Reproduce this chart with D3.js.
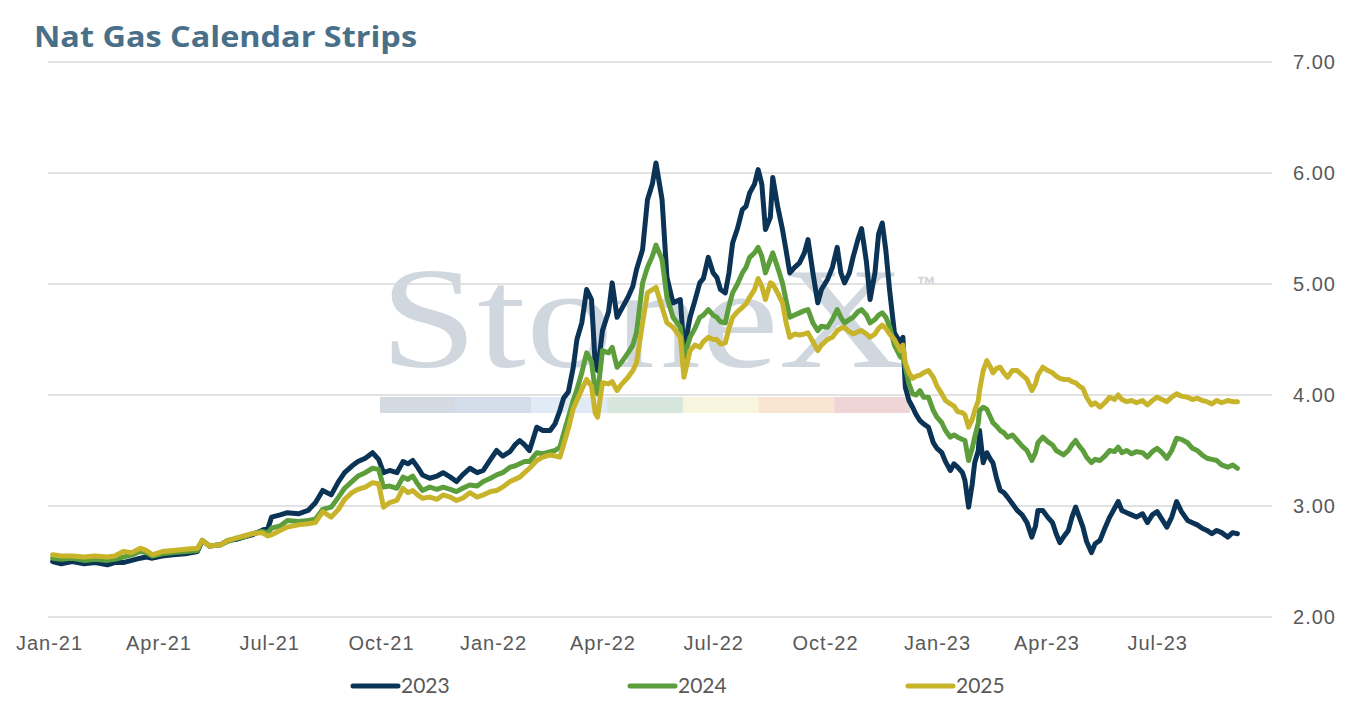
<!DOCTYPE html>
<html>
<head>
<meta charset="utf-8">
<script src="https://cdn.jsdelivr.net/npm/d3@7"></script>
<style>
  html, body { margin: 0; padding: 0; background: #fff; }
  svg { display: block; font-family: Lato, "Open Sans", sans-serif; }
  .grid line { stroke: #d9d9d9; stroke-width: 1.5; }
  .tick text { fill: #595959; font-size: 20px; letter-spacing: 1px; }
  .series { fill: none; stroke-width: 5; stroke-linejoin: round; stroke-linecap: round; }
</style>
</head>
<body>
<div class="chart"></div>
<script>
//
// DATA
//
const title = 'Nat Gas Calendar Strips'
const seriesNames = ['2023', '2024', '2025']
const seriesColors = ['#0b3355', '#5c9e3b', '#c8b42b']
const yTicks = [2, 3, 4, 5, 6, 7]

const dates = [
    '2021-01-04', '2021-01-11', '2021-01-20', '2021-01-30', '2021-02-08', '2021-02-18', '2021-02-24', '2021-03-03', '2021-03-10', '2021-03-17',
    '2021-03-22', '2021-03-27', '2021-04-04', '2021-04-13', '2021-04-23', '2021-05-03', '2021-05-07', '2021-05-13', '2021-05-22', '2021-05-28',
    '2021-06-04', '2021-06-10', '2021-06-17', '2021-06-25', '2021-06-30', '2021-07-03', '2021-07-10', '2021-07-16', '2021-07-25', '2021-08-02',
    '2021-08-08', '2021-08-14', '2021-08-21', '2021-08-27', '2021-09-01', '2021-09-07', '2021-09-12', '2021-09-18', '2021-09-24', '2021-09-29',
    '2021-10-03', '2021-10-08', '2021-10-14', '2021-10-19', '2021-10-23', '2021-10-27', '2021-10-31', '2021-11-04', '2021-11-10', '2021-11-16',
    '2021-11-21', '2021-11-27', '2021-12-02', '2021-12-07', '2021-12-13', '2021-12-19', '2021-12-24', '2021-12-30', '2022-01-04', '2022-01-09',
    '2022-01-15', '2022-01-19', '2022-01-23', '2022-01-27', '2022-01-31', '2022-02-06', '2022-02-11', '2022-02-17', '2022-02-21', '2022-02-25',
    '2022-02-28', '2022-03-04', '2022-03-08', '2022-03-11', '2022-03-15', '2022-03-19', '2022-03-23', '2022-03-26', '2022-03-28', '2022-04-01',
    '2022-04-06', '2022-04-09', '2022-04-13', '2022-04-17', '2022-04-22', '2022-04-26', '2022-04-29', '2022-05-04', '2022-05-08', '2022-05-12',
    '2022-05-15', '2022-05-20', '2022-05-24', '2022-05-29', '2022-06-04', '2022-06-07', '2022-06-12', '2022-06-16', '2022-06-20', '2022-06-23',
    '2022-06-27', '2022-07-01', '2022-07-04', '2022-07-07', '2022-07-11', '2022-07-14', '2022-07-17', '2022-07-21', '2022-07-25', '2022-07-28',
    '2022-07-31', '2022-08-04', '2022-08-07', '2022-08-10', '2022-08-13', '2022-08-17', '2022-08-19', '2022-08-23', '2022-08-27', '2022-08-30',
    '2022-09-02', '2022-09-06', '2022-09-10', '2022-09-14', '2022-09-17', '2022-09-21', '2022-09-25', '2022-09-28', '2022-10-03', '2022-10-07',
    '2022-10-11', '2022-10-14', '2022-10-17', '2022-10-21', '2022-10-24', '2022-10-28', '2022-10-31', '2022-11-04', '2022-11-07', '2022-11-11',
    '2022-11-14', '2022-11-17', '2022-11-20', '2022-11-23', '2022-11-27', '2022-12-02', '2022-12-04', '2022-12-06', '2022-12-09', '2022-12-12',
    '2022-12-15', '2022-12-18', '2022-12-21', '2022-12-25', '2022-12-29', '2023-01-01', '2023-01-05', '2023-01-08', '2023-01-12', '2023-01-15',
    '2023-01-18', '2023-01-22', '2023-01-24', '2023-01-27', '2023-01-30', '2023-02-01', '2023-02-04', '2023-02-05', '2023-02-08', '2023-02-11',
    '2023-02-14', '2023-02-16', '2023-02-19', '2023-02-22', '2023-02-25', '2023-02-28', '2023-03-04', '2023-03-08', '2023-03-12', '2023-03-16',
    '2023-03-20', '2023-03-23', '2023-03-25', '2023-03-29', '2023-04-02', '2023-04-06', '2023-04-09', '2023-04-12', '2023-04-15', '2023-04-19',
    '2023-04-22', '2023-04-25', '2023-04-28', '2023-05-01', '2023-05-04', '2023-05-08', '2023-05-11', '2023-05-15', '2023-05-19', '2023-05-23',
    '2023-05-27', '2023-05-30', '2023-06-02', '2023-06-06', '2023-06-10', '2023-06-14', '2023-06-19', '2023-06-23', '2023-06-27', '2023-07-01',
    '2023-07-05', '2023-07-09', '2023-07-13', '2023-07-17', '2023-07-21', '2023-07-26', '2023-07-30', '2023-08-03', '2023-08-07', '2023-08-11',
    '2023-08-15', '2023-08-19', '2023-08-23', '2023-08-28', '2023-09-01', '2023-09-05'
]

const strip2023 = [
    2.50, 2.48, 2.50, 2.48, 2.49, 2.47, 2.49, 2.49, 2.51, 2.53,
    2.54, 2.53, 2.55, 2.56, 2.57, 2.59, 2.69, 2.64, 2.65, 2.69,
    2.70, 2.72, 2.74, 2.78, 2.80, 2.90, 2.92, 2.94, 2.93, 2.96,
    3.03, 3.14, 3.10, 3.22, 3.30, 3.36, 3.40, 3.43, 3.48, 3.42,
    3.30, 3.32, 3.30, 3.40, 3.38, 3.41, 3.35, 3.28, 3.25, 3.27,
    3.30, 3.26, 3.22, 3.28, 3.34, 3.30, 3.32, 3.42, 3.50, 3.45,
    3.49, 3.55, 3.59, 3.55, 3.50, 3.71, 3.68, 3.68, 3.74, 3.86,
    3.97, 4.03, 4.25, 4.50, 4.65, 4.95, 4.86, 4.29, 4.22, 4.58,
    4.75, 5.01, 4.70, 4.78, 4.88, 4.98, 5.13, 5.31, 5.76, 5.90,
    6.09, 5.76, 5.06, 4.83, 4.86, 4.40, 4.70, 4.85, 5.01, 5.05,
    5.24, 5.10, 5.06, 4.95, 4.92, 5.10, 5.37, 5.50, 5.67, 5.70,
    5.82, 5.90, 6.03, 5.90, 5.49, 5.60, 5.96, 5.70, 5.49, 5.30,
    5.10, 5.15, 5.19, 5.28, 5.40, 5.10, 4.83, 4.95, 5.04, 5.15,
    5.33, 5.10, 5.01, 5.10, 5.24, 5.40, 5.50, 5.20, 4.86, 5.10,
    5.45, 5.55, 5.30, 4.95, 4.56, 4.47, 4.52, 4.07, 3.95, 3.89,
    3.82, 3.77, 3.74, 3.71, 3.57, 3.52, 3.48, 3.40, 3.32, 3.38,
    3.35, 3.30, 3.23, 2.99, 3.20, 3.39, 3.50, 3.68, 3.39, 3.48,
    3.42, 3.39, 3.25, 3.14, 3.12, 3.08, 3.02, 2.96, 2.92, 2.85,
    2.72, 2.82, 2.96, 2.96, 2.90, 2.85, 2.75, 2.67, 2.72, 2.78,
    2.90, 2.99, 2.90, 2.81, 2.68, 2.58, 2.66, 2.69, 2.80, 2.90,
    2.98, 3.04, 2.96, 2.94, 2.92, 2.90, 2.93, 2.85, 2.92, 2.95,
    2.88, 2.81, 2.90, 3.04, 2.95, 2.87, 2.85, 2.83, 2.80, 2.78,
    2.75, 2.78, 2.76, 2.72, 2.76, 2.75
]

const strip2024 = [
    2.53, 2.52, 2.53, 2.51, 2.52, 2.51, 2.52, 2.54, 2.56, 2.59,
    2.58, 2.55, 2.57, 2.58, 2.59, 2.60, 2.69, 2.64, 2.65, 2.68,
    2.71, 2.72, 2.75, 2.77, 2.76, 2.80, 2.82, 2.87, 2.86, 2.87,
    2.88, 2.97, 2.99, 3.08, 3.16, 3.22, 3.27, 3.30, 3.34, 3.33,
    3.17, 3.18, 3.16, 3.26, 3.24, 3.27, 3.20, 3.14, 3.17, 3.15,
    3.17, 3.15, 3.13, 3.16, 3.19, 3.18, 3.22, 3.25, 3.28, 3.30,
    3.35, 3.36, 3.38, 3.40, 3.40, 3.48, 3.47, 3.49, 3.50, 3.53,
    3.65, 3.80, 3.95, 4.05, 4.20, 4.38, 4.30, 4.04, 4.01, 4.40,
    4.38, 4.43, 4.25, 4.30, 4.38, 4.45, 4.56, 5.01, 5.15, 5.25,
    5.35, 5.22, 4.88, 4.70, 4.61, 4.34, 4.52, 4.60, 4.70, 4.72,
    4.77, 4.72, 4.70, 4.66, 4.65, 4.80, 4.92, 5.00, 5.10, 5.15,
    5.24, 5.28, 5.33, 5.25, 5.10, 5.22, 5.28, 5.15, 5.01, 4.85,
    4.70, 4.72, 4.74, 4.76, 4.77, 4.65, 4.58, 4.62, 4.61, 4.68,
    4.77, 4.70, 4.65, 4.68, 4.70, 4.75, 4.77, 4.72, 4.65, 4.68,
    4.72, 4.74, 4.70, 4.62, 4.45, 4.34, 4.40, 4.25, 4.10, 4.01,
    4.00, 4.04, 3.98, 3.98, 3.86, 3.80, 3.75, 3.68, 3.62, 3.64,
    3.62, 3.60, 3.59, 3.41, 3.52, 3.62, 3.75, 3.86, 3.89, 3.87,
    3.80, 3.75, 3.72, 3.68, 3.66, 3.62, 3.64, 3.59, 3.54, 3.50,
    3.41, 3.48, 3.57, 3.62, 3.58, 3.55, 3.50, 3.48, 3.46, 3.50,
    3.55, 3.59, 3.54, 3.50, 3.44, 3.39, 3.42, 3.41, 3.45, 3.50,
    3.49, 3.53, 3.48, 3.50, 3.47, 3.49, 3.48, 3.44, 3.49, 3.52,
    3.48, 3.43, 3.50, 3.61, 3.60, 3.57, 3.52, 3.50, 3.46, 3.43,
    3.42, 3.41, 3.37, 3.35, 3.37, 3.34
]

const strip2025 = [
    2.56, 2.55, 2.55, 2.54, 2.55, 2.54, 2.55, 2.59, 2.58, 2.62,
    2.60, 2.56, 2.59, 2.60, 2.61, 2.62, 2.69, 2.64, 2.65, 2.69,
    2.71, 2.73, 2.75, 2.76, 2.73, 2.74, 2.78, 2.81, 2.83, 2.84,
    2.85, 2.95, 2.90, 2.97, 3.06, 3.12, 3.15, 3.17, 3.21, 3.20,
    2.99, 3.03, 3.05, 3.16, 3.12, 3.14, 3.10, 3.07, 3.08, 3.06,
    3.10, 3.08, 3.05, 3.07, 3.12, 3.08, 3.10, 3.13, 3.14, 3.17,
    3.22, 3.24, 3.26, 3.30, 3.34, 3.41, 3.44, 3.46, 3.45, 3.44,
    3.55, 3.70, 3.88, 3.95, 4.05, 4.14, 4.08, 3.84, 3.80, 4.11,
    4.10, 4.12, 4.04, 4.10, 4.16, 4.22, 4.29, 4.65, 4.92, 4.95,
    4.97, 4.79, 4.65, 4.61, 4.52, 4.16, 4.40, 4.45, 4.43, 4.48,
    4.52, 4.50, 4.50, 4.46, 4.47, 4.60, 4.70, 4.75, 4.79, 4.82,
    4.88, 4.95, 5.05, 4.98, 4.86, 5.01, 5.00, 4.92, 4.83, 4.65,
    4.52, 4.55, 4.54, 4.55, 4.56, 4.48, 4.40, 4.45, 4.50, 4.52,
    4.58, 4.60, 4.61, 4.57, 4.55, 4.57, 4.58, 4.55, 4.52, 4.55,
    4.60, 4.63, 4.60, 4.55, 4.50, 4.40, 4.45, 4.29, 4.20, 4.15,
    4.17, 4.18, 4.20, 4.22, 4.16, 4.08, 4.01, 3.95, 3.92, 3.90,
    3.85, 3.84, 3.82, 3.71, 3.78, 3.86, 3.95, 4.04, 4.22, 4.31,
    4.25, 4.20, 4.24, 4.25, 4.20, 4.16, 4.22, 4.22, 4.18, 4.14,
    4.04, 4.10, 4.18, 4.25, 4.22, 4.20, 4.17, 4.15, 4.14, 4.14,
    4.12, 4.11, 4.08, 4.06, 3.98, 3.91, 3.93, 3.89, 3.93, 3.98,
    3.96, 4.00, 3.96, 3.94, 3.95, 3.93, 3.95, 3.91, 3.95, 3.98,
    3.96, 3.94, 3.98, 4.01, 3.99, 3.98, 3.96, 3.97, 3.95, 3.94,
    3.92, 3.95, 3.93, 3.95, 3.94, 3.94
]

// watermark logo strip colours
const logoColors = ['#d4dae1', '#d4deea', '#e0ebf5', '#d7e6dd', '#f7f5de', '#f8e6d2', '#f0d5d7']

//
// GLOBALS
//
const width = 1350
const height = 707
const plot = { left: 48, right: 1272, top: 62, bottom: 617 }

const parse = d3.timeParse('%Y-%m-%d')
const series = [strip2023, strip2024, strip2025].map((values, i) => ({
    name: seriesNames[i],
    color: seriesColors[i],
    points: values.map((v, j) => ({ date: parse(dates[j]), value: v }))
}))

const svg = d3.select('.chart')
    .append('svg')
    .attr('width', width)
    .attr('height', height)

// scales: axis starts on Jan-21, 1.2164 px per day
const x = d3.scaleTime()
    .domain([parse('2021-01-01'), parse('2023-10-01')])
    .range([49, 49 + 1003 * 1.2164])
const y = d3.scaleLinear()
    .domain([2, 7])
    .range([plot.bottom, plot.top])

// title
svg.append('text')
    .attr('x', 34)
    .attr('y', 47)
    .attr('textLength', 383)
    .attr('lengthAdjust', 'spacingAndGlyphs')
    .style('font-family', '"Open Sans", Lato, sans-serif')
    .style('font-size', '28px')
    .style('font-weight', 'bold')
    .style('fill', '#4a6f88')
    .text(title)

// watermark
const wm = svg.append('g').attr('class', 'watermark')
wm.append('text')
    .attr('x', 380)
    .attr('y', 367)
    .attr('textLength', 525)
    .attr('lengthAdjust', 'spacingAndGlyphs')
    .style('font-family', '"Liberation Serif", "DejaVu Serif", serif')
    .style('font-size', '143px')
    .style('fill', '#d0d7df')
    .text('StoneX')
wm.append('text')
    .attr('x', 917)
    .attr('y', 294)
    .style('font-size', '24px')
    .style('font-weight', 'bold')
    .style('fill', '#d0d7df')
    .text('™')
wm.selectAll('rect')
    .data(logoColors)
    .join('rect')
    .attr('x', (d, i) => 380 + i * 75.7)
    .attr('y', 397)
    .attr('width', 75.9)
    .attr('height', 16)
    .attr('fill', d => d)

// horizontal gridlines
svg.append('g')
    .attr('class', 'grid')
    .selectAll('line')
    .data(yTicks)
    .join('line')
    .attr('x1', plot.left)
    .attr('x2', plot.right)
    .attr('y1', d => y(d))
    .attr('y2', d => y(d))

// right value axis, labels right-aligned at the page edge
const yAxis = svg.append('g')
    .attr('transform', 'translate(1336,0)')
    .call(d3.axisLeft(y).tickValues(yTicks).tickFormat(d3.format('.2f')).tickSize(0).tickPadding(0))
yAxis.select('.domain').remove()

// date axis, quarterly labels up to Jul-23
const xAxis = svg.append('g')
    .attr('transform', `translate(0,${plot.bottom})`)
    .call(d3.axisBottom(x)
        .tickValues(d3.timeMonth.every(3).range(parse('2021-01-01'), parse('2023-08-01')))
        .tickFormat(d3.timeFormat('%b-%y'))
        .tickSize(0))
xAxis.select('.domain').remove()
xAxis.selectAll('text').attr('dy', '1.5em')

// series lines
const line = d3.line()
    .x(d => x(d.date))
    .y(d => y(d.value))

svg.append('g')
    .selectAll('path')
    .data(series)
    .join('path')
    .attr('class', 'series')
    .attr('stroke', d => d.color)
    .attr('d', d => line(d.points))

// legend
const legendX = [353, 630, 908]
const legend = svg.append('g')
    .selectAll('g')
    .data(series)
    .join('g')
    .attr('transform', (d, i) => `translate(${legendX[i]},686)`)
legend.append('line')
    .attr('x1', 0)
    .attr('x2', 45)
    .attr('stroke', d => d.color)
    .attr('stroke-width', 5)
    .attr('stroke-linecap', 'round')
legend.append('text')
    .attr('x', 48)
    .attr('dy', '0.35em')
    .style('font-size', '21px')
    .style('fill', '#595959')
    .text(d => d.name)
</script>
</body>
</html>
